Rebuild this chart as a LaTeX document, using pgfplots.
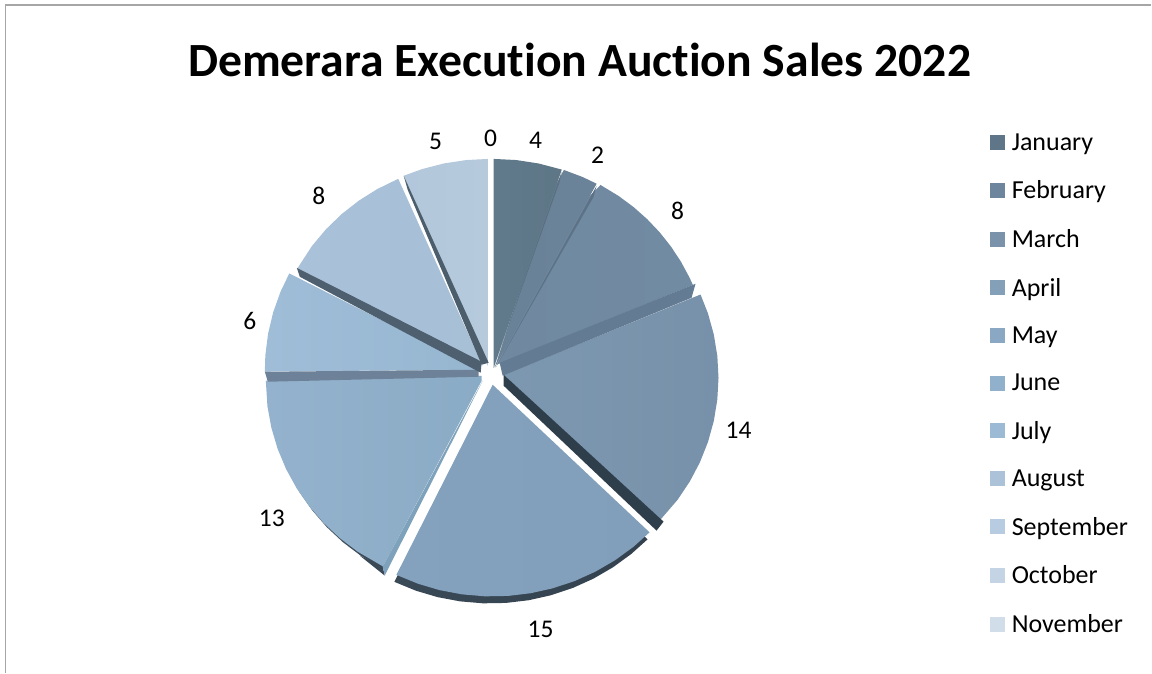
\documentclass[border=0pt]{standalone}
\usepackage{pgfplots}
\pgfplotsset{compat=1.18}
\usepackage{fontspec}
\setmainfont{Carlito}[Ligatures=NoCommon]
% colours
\definecolor{cJan}{HTML}{5F7588}\definecolor{cFeb}{HTML}{6E869D}\definecolor{cMar}{HTML}{7A93AB}
\definecolor{cApr}{HTML}{83A0B8}\definecolor{cMay}{HTML}{8AA8C3}\definecolor{cJun}{HTML}{91B0CC}
\definecolor{cJul}{HTML}{9CBAD4}\definecolor{cAug}{HTML}{ABC2D8}\definecolor{cSep}{HTML}{B7CCE0}
\definecolor{cOct}{HTML}{C4D4E4}\definecolor{cNov}{HTML}{D1DDE9}
\begin{document}
\begin{tikzpicture}[x=1pt,y=1pt]
\begin{axis}[
  at={(0pt,0pt)},anchor=south west,
  scale only axis,width=1152pt,height=673pt,
  xmin=0,xmax=1152,ymin=0,ymax=695.64,
  hide axis,clip=false,
  wedge/.style n args={4}{data cs=polar,forget plot,draw=none,
     xshift=#1pt,yshift=#2pt,
     /utils/exec={\definecolor{wl}{HTML}{#3}\definecolor{wr}{HTML}{#4}},
     left color=wl,right color=wr},
  flat/.style={forget plot,draw=none,y filter/.expression={y*1.03365},
     /utils/exec={\definecolor{fc}{HTML}{#1}},fill=fc},
  legend image code/.code={\fill[draw=none,#1] (0pt,-7.5pt) rectangle (15pt,7.5pt);\path (20pt,0pt);},
  legend cell align=left,
  legend style={at={(rel axis cs:0.8594,0.8046)},anchor=north west,draw=none,fill=none,inner sep=0pt,
     font=\fontsize{26}{26}\selectfont,row sep=25.1pt},
]
% chart frame
\addplot[forget plot,color=black!35,line width=1.6pt,y filter/.expression={y*1.03365}] coordinates {(5.5,0)(5.5,668)(1152,668)};

% --- rims behind the slices
\addplot[wedge={491}{281}{3A4956}{33424E}] coordinates {(0,0)(-44.2,219)(-50,219)(-56,219)(-62,219)(-68,219)(-74,219)(-80,219)(-86,219)(-92,219)(-98,219)(-104,219)(-110,219)(-116.1,219)} -- cycle;
\addplot[wedge={485}{288}{4A5A68}{3A4956}] coordinates {(-150,150)(-117.2,216)(-125,216)(-131,216)(-137,216)(-143,216)(-149,216)(-155,216)(-161,216)(-167,216)(-173,216)(-180,216)} -- cycle;
\addplot[flat=3A4956] coordinates {(385,97)(383,106)(360,117)} -- cycle;
\addplot[flat=7EA2BB] coordinates {(483,292)(383,106)(385,97)} -- cycle;

% --- slices: January ... September (values 4 2 8 14 15 13 6 8 5 0)
\addplot[wedge={497}{308}{7089A1}{718BA3}] coordinates {(0,0)(64,175)(60.8,213)(55,213)(50,213)(45,213)(40,213)(35,213)(30,213)(25,213)(22.8,213)} -- cycle;
\addplot[wedge={495}{305}{6A8298}{6B8399}] coordinates {(0,0)(72.5,190)(71.3,216)(66,216)(61.8,216)} -- cycle;
\addplot[wedge={494}{305}{607A8C}{5E7686}] coordinates {(0,0)(90,216)(84,216)(78,216)(71.6,216)} -- cycle;
\addplot[wedge={504}{295}{7C98B0}{7891AA}] coordinates {(90,3)(23.6,215)(18,215)(12,215)(6,215)(0,215)(-6,215)(-12,215)(-18,215)(-24,215)(-30,215)(-36,215)(-43.5,215)} -- cycle;
\addplot[wedge={493}{288}{84A1BD}{819EBA}] coordinates {(0,0)(-44.2,219)(-50,219)(-56,219)(-62,219)(-68,219)(-74,219)(-80,219)(-86,219)(-92,219)(-98,219)(-104,219)(-110,219)(-116.1,219)} -- cycle;
\addplot[wedge={482}{292}{94B2CD}{8AABC5}] coordinates {(0,0)(-117.2,216)(-125,216)(-131,216)(-137,216)(-143,216)(-149,216)(-155,216)(-161,216)(-167,216)(-173,216)(-180,216)(90,5)} -- cycle;
\addplot[wedge={480}{303}{A0BDD8}{96B6D0}] coordinates {(0,0)(152.4,215)(158,215)(164,215)(170,215)(176,215)(180.5,215)} -- cycle;
\addplot[wedge={483}{307}{A9C1D9}{A8C0D6}] coordinates {(0,0)(113.6,211)(120,211)(126,211)(132,211)(138,211)(144,211)(151.4,211)} -- cycle;
\addplot[wedge={489}{305}{B2C7DB}{B6CADC}] coordinates {(0,0)(90,216)(96,216)(102,216)(108,216)(113.2,216)} -- cycle;

% --- side strips in front
\addplot[flat=5A7080] coordinates {(494,305)(562,501)(560,491)} -- cycle;
\addplot[flat=5D7285] coordinates {(496,305)(597,487)(594,476)} -- cycle;
\addplot[flat=647C93] coordinates {(500,310)(696,389)(692,375)(503,297)} -- cycle;
\addplot[flat=2F3E4B] coordinates {(504,298)(504,287)(657,142)(664,151)} -- cycle;
\addplot[flat=6D8299] coordinates {(265,301)(268,291)(479,296)(479,303)} -- cycle;
\addplot[flat=4E6070] coordinates {(297,405)(300,396)(481,300)(482,311)} -- cycle;
\addplot[flat=4C5E6C] coordinates {(404,497)(408,483)(482,308)(489,310)} -- cycle;

% --- legend
\addlegendimage{fill=cJan}\addlegendentry{January}
\addlegendimage{fill=cFeb}\addlegendentry{February}
\addlegendimage{fill=cMar}\addlegendentry{March}
\addlegendimage{fill=cApr}\addlegendentry{April}
\addlegendimage{fill=cMay}\addlegendentry{May}
\addlegendimage{fill=cJun}\addlegendentry{June}
\addlegendimage{fill=cJul}\addlegendentry{July}
\addlegendimage{fill=cAug}\addlegendentry{August}
\addlegendimage{fill=cSep}\addlegendentry{September}
\addlegendimage{fill=cOct}\addlegendentry{October}
\addlegendimage{fill=cNov}\addlegendentry{November}
\end{axis}
\path (0pt,0pt) rectangle (1152pt,673pt);
\node[font=\fontsize{47.7}{48}\selectfont\bfseries] at (580pt,613pt) {Demerara Execution Auction Sales 2022};
\begin{scope}[every node/.style={font=\fontsize{25.5}{25.5}\selectfont,inner sep=0pt}]
\node at (491pt,535pt) {0};
\node at (536pt,533pt) {4};
\node at (598pt,518pt) {2};
\node at (678pt,462pt) {8};
\node at (739pt,242pt) {14};
\node at (541pt,43pt) {15};
\node at (272pt,154pt) {13};
\node at (250pt,352pt) {6};
\node at (319pt,477pt) {8};
\node at (436pt,531pt) {5};
\end{scope}
\end{tikzpicture}
\end{document}
